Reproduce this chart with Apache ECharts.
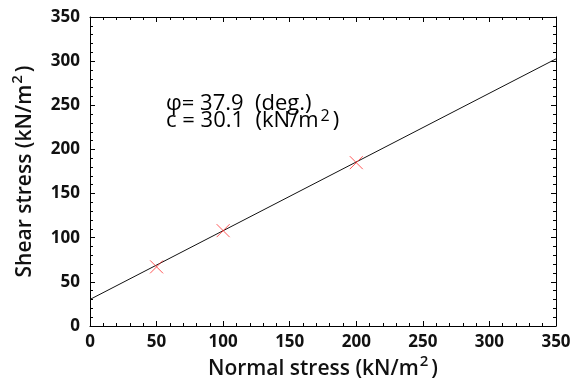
<!DOCTYPE html>
<html>
<head>
<meta charset="utf-8">
<script src="https://cdn.jsdelivr.net/npm/echarts@6/dist/echarts.min.js"></script>
<style>
  html, body { margin: 0; padding: 0; background: #fff; }
  #chart { width: 574px; height: 383px; }
</style>
</head>
<body>
<div id="chart"></div>
<script>
let myChart = echarts.init(document.getElementById("chart"));

// measured points (normal stress, shear stress)
const normalStress = [50, 100, 200];
const shearStress = [67, 108, 185];
// fitted Mohr-Coulomb line
const phiDeg = 37.9;
const cohesion = 30.1;
const lineX = [0, 350];
const lineY = [30.1, 302.6];
const axisTicks = [0, 50, 100, 150, 200, 250, 300, 350];

const font = "'Open Sans', sans-serif";

function frameAxis(pos, isX, showLabel) {
  return {
    type: "value",
    position: pos,
    min: axisTicks[0],
    max: axisTicks[axisTicks.length - 1],
    interval: 50,
    splitLine: { show: false },
    axisLine: { show: true, onZero: false, lineStyle: { color: "#000", width: 1 } },
    axisTick: { show: true, inside: true, length: 5, lineStyle: { color: "#000" } },
    minorTick: { show: true, splitNumber: 5, length: 3, lineStyle: { color: "#000" } },
    axisLabel: {
      show: showLabel,
      color: "#111",
      fontFamily: font,
      fontWeight: "bold",
      fontSize: 17,
      margin: isX ? 8 : 10,
    },
  };
}

// superscript: small token pinned to the top of a tall line box
const titleStyle = {
  rich: {
    t: { fontFamily: font, fontSize: 21, fontWeight: 600, color: "#111", lineHeight: 30 },
    s: { fontFamily: font, fontSize: 15, fontWeight: 600, color: "#111", verticalAlign: "top", lineHeight: 15, padding: [0, 3, 0, 1] },
  },
};

let xBottom = frameAxis("bottom", true, true);
xBottom.name = "{t|Normal stress (kN/m}{s|2}{t|)}";
xBottom.nameLocation = "middle";
xBottom.nameGap = 28;
xBottom.nameMoveOverlap = false;
xBottom.nameTextStyle = titleStyle;

let yLeft = frameAxis("left", false, true);
yLeft.name = "{t|Shear stress (kN/m}{s|2}{t|)}";
yLeft.nameLocation = "middle";
yLeft.nameGap = 50;
yLeft.nameMoveOverlap = false;
yLeft.nameTextStyle = titleStyle;

const noteRich = {
  t: { fontFamily: font, fontSize: 22, fill: "#000", lineHeight: 26 },
  s: { fontFamily: font, fontSize: 16, fill: "#000", verticalAlign: "top", lineHeight: 13, padding: [0, 3, 0, 2] },
};

let option = {
  animation: false,
  grid: { left: 90, right: 18, top: 17, bottom: 57, outerBoundsMode: "none" },
  xAxis: [xBottom, frameAxis("top", true, false)],
  yAxis: [yLeft, frameAxis("right", false, false)],
  graphic: [
    {
      type: "text",
      left: 166,
      top: 93,
      style: {
        text: "{t|\u03c6= " + phiDeg.toFixed(1) + "  (deg.)}",
        rich: noteRich,
      },
    },
    {
      type: "text",
      left: 166,
      top: 108,
      style: {
        text: "{t|c = " + cohesion.toFixed(1) + "  (kN/m}{s|2}{t|)}",
        rich: noteRich,
      },
    },
  ],
  series: [
    {
      type: "line",
      data: lineX.map((x, i) => [x, lineY[i]]),
      symbol: "none",
      lineStyle: { color: "#111", width: 1 },
      z: 2,
    },
    {
      type: "scatter",
      data: normalStress.map((x, i) => [x, shearStress[i]]),
      symbol: "path://M0,0L10,10M10,0L0,10",
      symbolSize: 13,
      itemStyle: { color: "none", borderColor: "#ff3030", borderWidth: 1 },
      z: 3,
    },
  ],
};

myChart.setOption(option);
</script>
</body>
</html>
